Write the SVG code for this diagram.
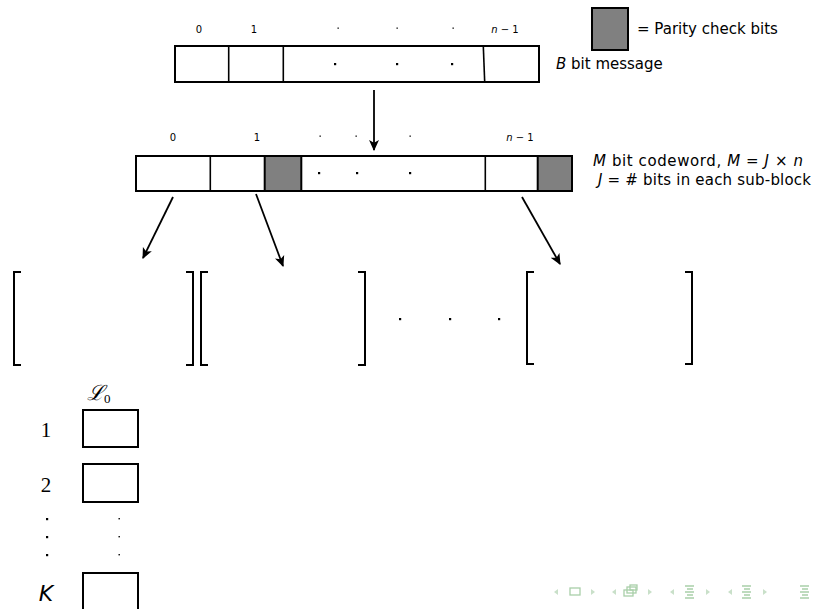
<svg xmlns="http://www.w3.org/2000/svg" width="820" height="609" viewBox="0 0 820 609">
<style>
.box{fill:#fff;stroke:#000;stroke-width:2}
.par{fill:#808080;stroke:#000;stroke-width:2}
.div{stroke:#000;stroke-width:1.6;fill:none}
.sm{font-family:"DejaVu Sans","Liberation Sans",sans-serif;font-size:10px;fill:#000}
.lbl{font-family:"DejaVu Sans","Liberation Sans",sans-serif;font-size:15px;fill:#000}
.num{font-family:"Liberation Serif","DejaVu Serif",serif;font-size:21px;fill:#000}
.conn{stroke:#000;stroke-width:1.8;fill:none;marker-end:url(#ah)}
.brk{stroke:#000;stroke-width:2;fill:none}
.nav{fill:none;stroke:#a9cfa9;stroke-width:1.3}
.navf{fill:#c9e0c9}
</style>
<defs>
<marker id="ah" viewBox="0 0 10 10" refX="9" refY="5" markerWidth="11" markerHeight="11" orient="auto" markerUnits="userSpaceOnUse">
<path d="M0,0.5 L10,5 L0,9.5 L2.5,5 z" fill="#000"/>
</marker>
</defs>

<g id="legend">
<rect class="par" x="592" y="8" width="36" height="42"/>
<text class="lbl" x="637" y="34">= Parity check bits</text>
</g>

<g id="message">
<text class="sm" x="199" y="33" text-anchor="middle">0</text>
<text class="sm" x="254" y="33" text-anchor="middle">1</text>
<rect x="337.5" y="27.5" width="1.3" height="1.3"/>
<rect x="396.5" y="27.5" width="1.3" height="1.3"/>
<rect x="452.5" y="27.5" width="1.3" height="1.3"/>
<text class="sm" x="505" y="33" text-anchor="middle" font-style="italic">n <tspan font-style="normal">− 1</tspan></text>
<rect class="box" x="175" y="46" width="364" height="36"/>
<line class="div" x1="228.7" y1="46" x2="228.7" y2="82"/>
<line class="div" x1="283.3" y1="46" x2="283.3" y2="82"/>
<line class="div" x1="483.3" y1="46" x2="484.7" y2="82"/>
<rect x="334" y="63" width="2.2" height="2.2"/>
<rect x="396" y="63" width="2.2" height="2.2"/>
<rect x="451" y="63" width="2.2" height="2.2"/>
<text class="lbl" x="556" y="69"><tspan font-style="italic">B</tspan> bit message</text>
</g>

<g id="codeword">
<text class="sm" x="173" y="141" text-anchor="middle">0</text>
<text class="sm" x="257" y="141" text-anchor="middle">1</text>
<rect x="319.5" y="135.5" width="1.3" height="1.3"/>
<rect x="355.5" y="135.5" width="1.3" height="1.3"/>
<rect x="409.5" y="135.5" width="1.3" height="1.3"/>
<text class="sm" x="520" y="141" text-anchor="middle" font-style="italic">n <tspan font-style="normal">− 1</tspan></text>
<rect class="box" x="136" y="156" width="436" height="35"/>
<line class="div" x1="210.3" y1="156" x2="210.3" y2="191"/>
<rect class="par" x="264.7" y="156" width="36.6" height="35"/>
<line class="div" x1="485.3" y1="156" x2="485.3" y2="191"/>
<rect class="par" x="537.7" y="156" width="34.3" height="35"/>
<rect x="318" y="172" width="2.2" height="2.2"/>
<rect x="356" y="172" width="2.2" height="2.2"/>
<rect x="409" y="172" width="2.2" height="2.2"/>
<text class="lbl" x="593" y="166" textLength="210" lengthAdjust="spacing"><tspan font-style="italic">M</tspan> bit codeword, <tspan font-style="italic">M</tspan> = <tspan font-style="italic">J</tspan> × <tspan font-style="italic">n</tspan></text>
<text class="lbl" x="598" y="185" textLength="213" lengthAdjust="spacing"><tspan font-style="italic">J</tspan> = # bits in each sub-block</text>
</g>

<g id="connectors">
<line class="conn" x1="374" y1="90" x2="374" y2="150"/>
<line class="conn" x1="173" y1="197" x2="143" y2="258"/>
<line class="conn" x1="256" y1="194" x2="283" y2="266"/>
<line class="conn" x1="522" y1="197" x2="560" y2="264"/>
</g>

<g id="subblocks">
<path class="brk" d="M21,272 H14 V365 H21"/>
<path class="brk" d="M186,272 H193 V365 H186"/>
<path class="brk" d="M208,272 H201 V365 H208"/>
<path class="brk" d="M358,272 H365 V365 H358"/>
<rect x="399" y="318" width="2.2" height="2.2"/>
<rect x="449" y="318" width="2.2" height="2.2"/>
<rect x="498" y="318" width="2.2" height="2.2"/>
<path class="brk" d="M534,272 H527 V364 H534"/>
<path class="brk" d="M685,272 H692 V364 H685"/>
</g>

<g id="list">
<text x="87" y="400" font-family="'Liberation Serif','DejaVu Serif',serif" font-style="italic" font-size="21">ℒ<tspan font-size="13" dy="3" font-style="normal">0</tspan></text>
<text class="num" x="46" y="437" text-anchor="middle">1</text>
<rect class="box" x="83" y="410" width="55" height="37"/>
<text class="num" x="46" y="492" text-anchor="middle">2</text>
<rect class="box" x="83" y="464" width="55" height="38"/>
<rect x="46" y="518" width="2.2" height="2.2"/>
<rect x="46" y="536" width="2.2" height="2.2"/>
<rect x="46" y="554" width="2.2" height="2.2"/>
<rect x="118.5" y="518" width="1.4" height="1.4"/>
<rect x="118.5" y="536" width="1.4" height="1.4"/>
<rect x="118.5" y="554" width="1.4" height="1.4"/>
<text x="46" y="601" text-anchor="middle" font-family="'DejaVu Sans','Liberation Sans',sans-serif" font-style="italic" font-size="22">K</text>
<rect class="box" x="83" y="573" width="55" height="40"/>
</g>

<g id="navigation">
<path class="navf" d="M558,589 L554,592 L558,595 z"/>
<rect class="nav" x="570" y="588" width="10" height="7"/>
<path class="navf" d="M591,589 L595,592 L591,595 z"/>
<path class="navf" d="M616,589 L612,592 L616,595 z"/>
<rect class="nav" x="624" y="590" width="9" height="6"/>
<rect class="nav" x="627" y="587" width="9" height="6"/>
<rect class="nav" x="630" y="585" width="7" height="5"/>
<path class="navf" d="M648,589 L652,592 L648,595 z"/>
<path class="navf" d="M674,589 L670,592 L674,595 z"/>
<path class="nav" d="M685,586 H694 M687,589 H693 M685,592 H694 M687,595 H693 M685,598 H694"/>
<path class="navf" d="M706,589 L710,592 L706,595 z"/>
<path class="navf" d="M732,589 L728,592 L732,595 z"/>
<path class="nav" d="M742,586 H751 M744,589 H750 M742,592 H751 M744,595 H750 M742,598 H751"/>
<path class="navf" d="M763,589 L767,592 L763,595 z"/>
<path class="nav" d="M800,586 H809 M802,589 H808 M800,592 H809 M802,595 H808 M800,598 H809"/>
</g>
</svg>
